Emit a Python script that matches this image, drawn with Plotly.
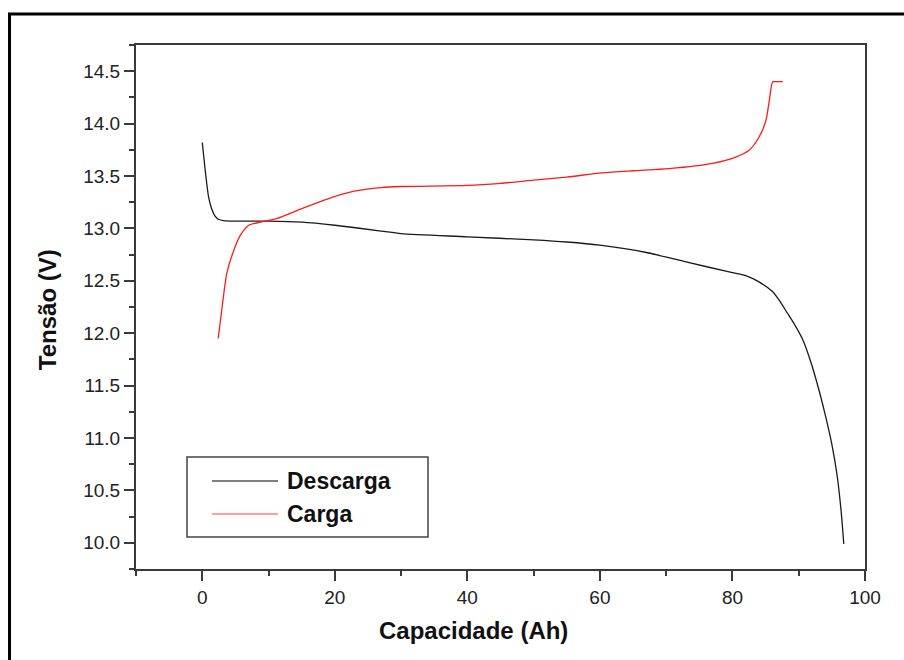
import plotly.graph_objects as go

# Descarga (discharge) curve
descarga_x = [0, 0.2, 0.45, 0.95, 1.4, 1.9, 2.5, 3.2, 5, 10, 15, 20, 27, 30, 40, 50, 55, 60,
              67, 73, 79.5, 82, 84, 86, 87.1, 88.2, 89.4, 90.6, 91.8, 93.0, 94.0, 95.0, 95.8,
              96.4, 96.8]
descarga_y = [13.82, 13.70, 13.55, 13.30, 13.19, 13.12, 13.085, 13.075, 13.07, 13.07, 13.06,
              13.03, 12.975, 12.95, 12.92, 12.89, 12.87, 12.84, 12.77, 12.68, 12.585, 12.55,
              12.49, 12.40, 12.31, 12.20, 12.08, 11.94, 11.73, 11.47, 11.22, 10.94, 10.64,
              10.30, 9.99]

# Carga (charge) curve
carga_x = [2.4, 2.7, 3.0, 3.7, 4.75, 5.76, 7.0, 8.8, 11.3, 14.3, 18.4, 22.9, 27, 30, 40,
           45, 50, 55, 60.3, 65, 70.4, 77, 80.5, 82.5, 84, 85.05, 85.56, 86.06, 86.3, 87.6]
carga_y = [11.95, 12.10, 12.25, 12.57, 12.79, 12.935, 13.03, 13.06, 13.095, 13.17, 13.27,
           13.355, 13.39, 13.40, 13.41, 13.43, 13.46, 13.49, 13.53, 13.55, 13.57, 13.62,
           13.68, 13.745, 13.87, 14.03, 14.22, 14.40, 14.40, 14.40]

series_names = ["Descarga", "Carga"]
series_colors = ["#1a1a1a", "#ff1a1a"]
legend_line_colors = ["#555555", "#ff8080"]

x_title = "Capacidade (Ah)"
y_title = "Tensão (V)"

FONT = "Liberation Sans, Arial"

fig = go.Figure()
fig.add_trace(go.Scatter(x=descarga_x, y=descarga_y, mode="lines", name=series_names[0],
                         line=dict(color=series_colors[0], width=1.3, shape="spline", smoothing=0.7),
                         showlegend=False))
fig.add_trace(go.Scatter(x=carga_x, y=carga_y, mode="lines", name=series_names[1],
                         line=dict(color=series_colors[1], width=1.3, shape="spline", smoothing=0.7),
                         showlegend=False))

axis_common = dict(
    showline=True, linecolor="#3a3a3a", linewidth=2, mirror=True,
    ticks="outside", ticklen=10, tickwidth=2, tickcolor="#3a3a3a",
    showgrid=False, zeroline=False,
    tickfont=dict(family=FONT, size=19, color="#222"),
)

fig.update_xaxes(range=[-10, 100], tick0=0, dtick=20,
                 minor=dict(dtick=10, ticks="outside", ticklen=5, tickwidth=2, tickcolor="#3a3a3a"),
                 **axis_common)
fig.update_yaxes(range=[9.75, 14.75], tick0=10, dtick=0.5, tickformat=".1f",
                 minor=dict(dtick=0.25, ticks="outside", ticklen=5, tickwidth=2, tickcolor="#3a3a3a"),
                 **axis_common)

fig.add_annotation(text=x_title, xref="paper", yref="paper", x=0.4636, y=-0.1183,
                   showarrow=False, xanchor="center", yanchor="middle",
                   font=dict(family=FONT, size=24, color="#111", weight="bold"))
fig.add_annotation(text=y_title, xref="paper", yref="paper", x=-0.122, y=0.494,
                   textangle=-90, showarrow=False, xanchor="center", yanchor="middle",
                   font=dict(family=FONT, size=24, color="#111", weight="bold"))

# legend box (drawn to match reference layout)
fig.add_shape(type="rect", xref="paper", yref="paper", x0=0.06996, y0=0.06107, x1=0.40055, y1=0.21374,
              line=dict(color="#444", width=1.5), fillcolor="white", layer="above")
legend_rows_y = [0.16794, 0.10496]
for name, lc, ly in zip(series_names, legend_line_colors, legend_rows_y):
    fig.add_shape(type="line", xref="paper", yref="paper", x0=0.10425, x1=0.19479, y0=ly, y1=ly,
                  line=dict(color=lc, width=1.3), layer="above")
    fig.add_annotation(text=name, xref="paper", yref="paper", x=0.2044, y=ly,
                       showarrow=False, xanchor="left", yanchor="middle",
                       font=dict(family=FONT, size=23, color="#111", weight="bold"))

# outer frame
fig.add_shape(type="rect", xref="paper", yref="paper", x0=-0.1735, y0=-0.25, x1=1.07, y1=1.0592,
              line=dict(color="black", width=3), fillcolor="rgba(0,0,0,0)", layer="below")

fig.update_layout(
    width=904, height=660,
    margin=dict(l=136, r=39, t=45, b=91),
    paper_bgcolor="white", plot_bgcolor="white",
    showlegend=False,
)

fig.write_html("out.html")
